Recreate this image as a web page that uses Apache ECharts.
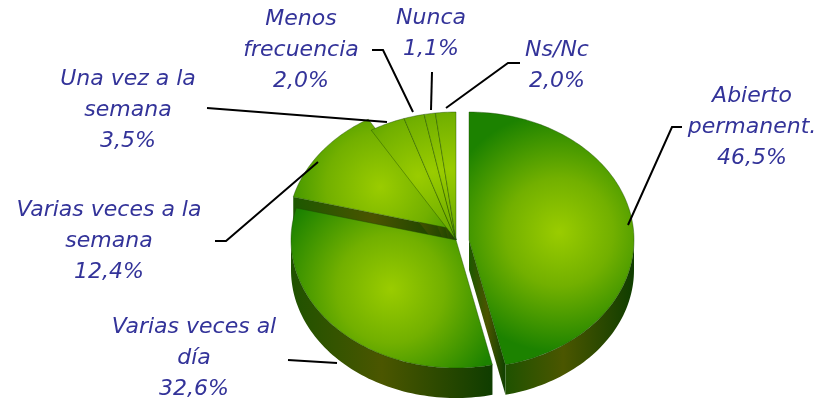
<!DOCTYPE html>
<html>
<head>
<meta charset="utf-8">
<script src="https://cdn.jsdelivr.net/npm/echarts@6/dist/echarts.min.js"></script>
<style>
  html, body { margin: 0; padding: 0; background: #fff; }
  #chart { width: 821px; height: 406px; }
</style>
</head>
<body>
<div id="chart"></div>
<script>
  // data
  const categories = ['Abierto\npermanent.', 'Varias veces al\ndía', 'Varias veces a la\nsemana',
    'Una vez a la\nsemana', 'Menos\nfrecuencia', 'Nunca', 'Ns/Nc']
  const values = [46.5, 32.6, 12.4, 3.5, 2.0, 1.1, 2.0]

  // layout (pixels) - pie geometry, explode offsets, label centres and leader lines
  const CX = 456, CY = 240, RX = 165, RY = 128, DEPTH = 30
  const explode = [[13, 0], [0, 0], [-3, -11], [0, 0], [0, 0], [0, 0], [0, 0]]
  const labelPos = [[752, 127], [194, 358], [109, 241], [128, 110], [301, 50], [431, 34], [557, 66]]
  const leaders = [
    [[682, 127], [672, 127], [628, 225]],
    [[288, 360], [337, 363]],
    [[215, 241], [226, 241], [318, 162]],
    [[207, 108], [387, 122]],
    [[372, 50], [383, 50], [413, 112]],
    [[432, 72], [431, 110]],
    [[520, 63], [508, 63], [446, 108]]
  ]

  const total = values.reduce((a, b) => a + b, 0)
  const starts = []
  let acc = 0
  values.forEach(v => { starts.push(acc / total * 360); acc += v })

  const fmt = v => v.toFixed(1).replace('.', ',') + '%'

  function renderItem (params, api) {
    const i = params.dataIndex
    const a0 = starts[i]
    const a1 = a0 + api.value(0) / total * 360
    const ox = explode[i][0], oy = explode[i][1]
    const pt = (deg, dy, f) => {
      const r = deg * Math.PI / 180
      const k = f == null ? 1 : f
      return [CX + ox + k * RX * Math.sin(r), CY + oy - k * RY * Math.cos(r) + (dy || 0)]
    }
    const arc = (from, to, dy) => {
      const out = []
      const n = Math.max(2, Math.ceil((to - from) / 1.5))
      for (let k = 0; k <= n; k++) out.push(pt(from + (to - from) * k / n, dy))
      return out
    }
    const c = [CX + ox, CY + oy]
    const cd = [c[0], c[1] + DEPTH]
    const children = []

    // top face, highlight placed along the slice's middle angle
    const hl = pt((a0 + a1) / 2, 0, 0.55)
    children.push({
      type: 'polygon',
      z2: 20,
      shape: { points: [c].concat(arc(a0, a1)) },
      style: {
        fill: new echarts.graphic.RadialGradient(hl[0], hl[1], 120, [
          { offset: 0, color: '#9acc00' },
          { offset: 0.45, color: '#72b000' },
          { offset: 1, color: '#1c8200' }
        ], true),
        stroke: 'rgba(25,70,0,0.5)',
        lineWidth: 0.8
      }
    })

    // outer wall, front half only
    const lo = Math.max(a0, 90), hi = Math.min(a1, 270)
    if (lo < hi) {
      const top = arc(lo, hi)
      const bot = arc(lo, hi, DEPTH).reverse()
      children.push({
        type: 'polygon',
        z2: 5,
        shape: { points: top.concat(bot) },
        style: {
          fill: new echarts.graphic.LinearGradient(0, 0, 1, 0, [
            { offset: 0, color: '#1f5200' },
            { offset: 0.45, color: '#4b5600' },
            { offset: 1, color: '#0f3d00' }
          ])
        }
      })
    }

    // radial walls facing the viewer
    const wall = (deg) => {
      const p = pt(deg)
      return {
        type: 'polygon',
        z2: 4,
        shape: { points: [c, p, [p[0], p[1] + DEPTH], cd] },
        style: {
          fill: new echarts.graphic.LinearGradient(0, 0, 1, 0, [
            { offset: 0, color: '#1d5800' },
            { offset: 0.5, color: '#4a5400' },
            { offset: 1, color: '#0f4000' }
          ])
        }
      }
    }
    if (Math.cos((a0 - 90) * Math.PI / 180) < -0.01) children.push(wall(a0))
    if (Math.cos((a1 + 90) * Math.PI / 180) < -0.01) children.push(wall(a1))

    // leader line and label
    children.push({
      type: 'polyline',
      z2: 30,
      shape: { points: leaders[i] },
      style: { stroke: '#000', lineWidth: 2, fill: null }
    })
    children.push({
      type: 'text',
      z2: 30,
      x: labelPos[i][0],
      y: labelPos[i][1],
      style: {
        text: categories[i] + '\n' + fmt(values[i]),
        font: 'italic 22px "DejaVu Sans", Verdana, sans-serif',
        fill: '#333399',
        align: 'center',
        verticalAlign: 'middle',
        lineHeight: 31
      }
    })

    return { type: 'group', children: children }
  }

  const myChart = echarts.init(document.getElementById('chart'))
  myChart.setOption({
    animation: false,
    series: [
      {
        type: 'custom',
        coordinateSystem: 'none',
        renderItem: renderItem,
        data: values.map(v => [v])
      }
    ]
  })
</script>
</body>
</html>
